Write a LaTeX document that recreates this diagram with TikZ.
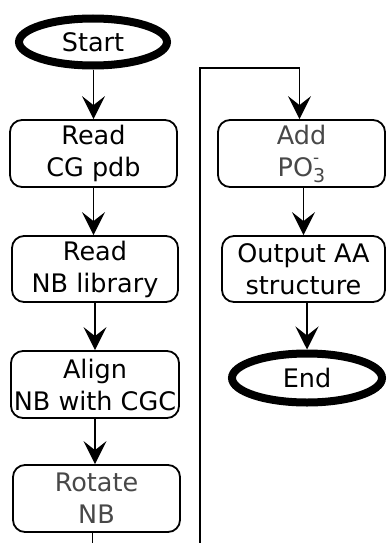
\documentclass[tikz,border=0pt]{standalone}
\usepackage{fontspec}
\setmainfont{DejaVu Sans}
\usetikzlibrary{arrows.meta,shapes.geometric}
\definecolor{softtext}{HTML}{484848}
\newcommand{\phosphate}{PO\rlap{\raisebox{13pt}{\fontsize{17}{17}\selectfont -}}\raisebox{-6pt}{\fontsize{19}{19}\selectfont 3}}
\tikzset{
  procbox/.style={draw, line width=1.8pt, rounded corners=12pt, align=center,
    inner sep=0pt, font=\fontsize{25.5}{32}\selectfont},
  termnode/.style={draw, ellipse, line width=8pt, inner sep=0pt,
    font=\fontsize{25.5}{32}\selectfont},
  flow/.style={line width=1.5pt, -{Stealth[length=23pt,width=23pt,inset=9pt]}}
}
\begin{document}
\begin{tikzpicture}[x=1pt,y=-1pt]
\useasboundingbox (0,0) rectangle (386,543);
\clip (0,0) rectangle (386,543);

% left column
\node[termnode, minimum width=148pt, minimum height=47pt] (start) at (93,42) {Start};
\node[procbox, minimum width=167pt, minimum height=67pt] (readcg) at (93.5,153.5) {Read\\CG pdb};
\node[procbox, minimum width=166pt, minimum height=66pt] (readnb) at (95,269) {Read\\NB library};
\node[procbox, minimum width=168pt, minimum height=67pt] (align) at (95,384.5) {Align\\NB with CGC};
\node[procbox, minimum width=167pt, minimum height=67pt, text=softtext] (rotate) at (96.5,498.5) {Rotate\\NB};

% right column
\node[procbox, minimum width=167pt, minimum height=67pt, text=softtext] (addpo) at (301.5,153.5) {Add\\\phosphate};
\node[procbox, minimum width=163pt, minimum height=66pt] (output) at (303.5,269) {Output AA\\structure};
\node[termnode, minimum width=150pt, minimum height=49pt] (finish) at (307,378) {End};

% loop-back route from the bottom of the left column to the top of the right one
\coordinate (lowturn) at (200,570);
\coordinate (topturn) at (200,68);

% connectors
\draw[flow] (start.south -| readcg.north) -- (readcg.north);
\draw[flow] (readcg.south) -- (readcg.south |- readnb.north);
\draw[flow] (readnb.south) -- (readnb.south |- align.north);
\draw[flow] (align.south) -- (align.south |- rotate.north);
\draw[flow] ([xshift=-4pt]rotate.south) |- (lowturn) -- (topturn) -| ([xshift=-2pt]addpo.north);
\draw[flow] (addpo.south -| output.north) -- (output.north);
\draw[flow] (output.south -| finish.north) -- (finish.north);
\end{tikzpicture}
\end{document}
